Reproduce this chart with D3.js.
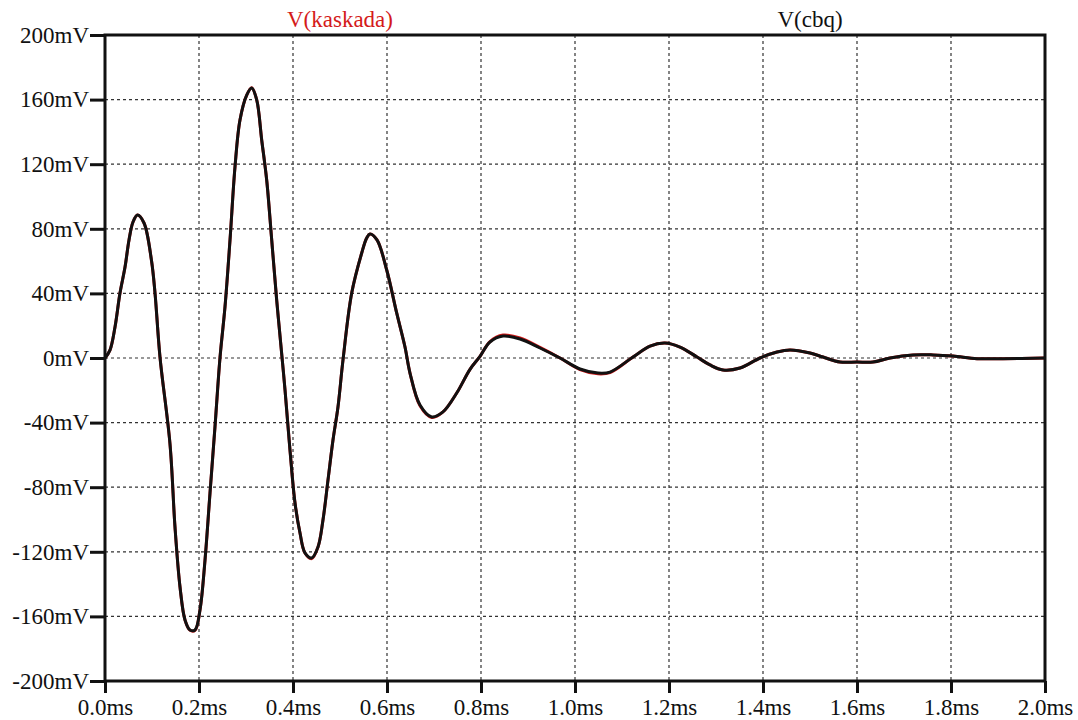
<!DOCTYPE html>
<html>
<head>
<meta charset="utf-8">
<script src="https://cdn.jsdelivr.net/npm/d3@7"></script>
<style>
  html, body { margin: 0; padding: 0; background: #fff; }
  svg { display: block; }
  text { font-family: "Liberation Serif", "DejaVu Serif", "Noto Serif", serif; }
</style>
</head>
<body>
<svg id="chart" width="1078" height="720"></svg>
<script>
// Transient response, time in ms, voltage in mV
const timeMs = [
  0, 0.0106, 0.0213, 0.0319, 0.0426, 0.0511, 0.0596, 0.0691, 0.083, 0.0989,
  0.1064, 0.117, 0.1383, 0.1489, 0.1596, 0.1702, 0.1809, 0.1915, 0.2021, 0.2128,
  0.2234, 0.234, 0.2447, 0.2553, 0.266, 0.2766, 0.2872, 0.3015, 0.3121, 0.3228,
  0.3334, 0.344, 0.3547, 0.3653, 0.3766, 0.383, 0.3936, 0.4043, 0.4149, 0.4255,
  0.4398, 0.4532, 0.4638, 0.4745, 0.4851, 0.4957, 0.5064, 0.5249, 0.5462, 0.5568,
  0.5638, 0.5787, 0.5994, 0.6206, 0.6383, 0.6489, 0.6702, 0.6951, 0.7191, 0.7483,
  0.7766, 0.7979, 0.8191, 0.8468, 0.883, 0.9255, 0.9681, 1.0106, 1.049, 1.0745,
  1.1234, 1.1596, 1.1915, 1.2234, 1.2596, 1.2872, 1.3149, 1.3511, 1.3936, 1.4298,
  1.4574, 1.5, 1.5277, 1.5638, 1.6, 1.634, 1.6702, 1.7191, 1.7617, 1.8043,
  1.8553, 1.9106, 2.0
];

// V(cbq)
const vCbq = [
  0, 4.9, 19.2, 40.2, 56.3, 73.1, 84.2, 88.5, 83.6, 60.4,
  40.2, 0.6, -53.3, -104.6, -141.8, -162.2, -168.4, -168.4, -156.0, -125.1,
  -83.6, -42.7, 0.3, 31.6, 73.1, 118.3, 147.4, 162.8, 167.2, 159.8,
  135.0, 110.2, 73.1, 35.9, 0.6, -19.8, -57.0, -89.8, -108.4, -120.7,
  -123.8, -117.0, -100.3, -75.5, -50.8, -30.3, -1.2, 40.2, 65.0, 74.3,
  76.8, 73.1, 54.5, 27.9, 6.8, -9.3, -29.1, -36.5, -33.4, -21.7,
  -7.0, 1.0, 9.9, 13.6, 11.8, 6.2, 0, -6.8, -9.3, -8.7,
  0.6, 7.4, 9.3, 6.8, 0.6, -4.3, -7.4, -6.2, 0, 3.7,
  5.0, 3.1, 0.6, -2.5, -2.5, -2.5, 0, 1.9, 1.9, 1.2,
  -0.4, -0.4, 0
];

// V(kaskada)
const vKaskada = [
  0, 4.9, 19.2, 40.2, 56.3, 73.1, 84.2, 88.5, 83.6, 60.4,
  40.2, 0.6, -53.3, -104.6, -141.8, -162.2, -168.6, -168.6, -156.0, -125.1,
  -83.6, -42.7, 0.3, 31.6, 73.1, 118.3, 147.4, 162.8, 167.4, 159.8,
  135.0, 110.2, 73.1, 35.9, 0.6, -19.8, -57.0, -89.8, -108.4, -120.7,
  -124.2, -117.0, -100.3, -75.5, -50.8, -30.3, -1.2, 40.2, 65.0, 74.3,
  76.8, 73.1, 54.5, 27.9, 6.8, -9.3, -29.6, -36.8, -33.4, -21.7,
  -7.0, 1.0, 10.2, 14.2, 12.4, 6.6, 0, -7.2, -9.8, -9.0,
  0.6, 7.4, 9.3, 6.8, 0.6, -4.3, -7.4, -6.2, 0, 3.7,
  5.0, 3.1, 0.6, -2.5, -2.5, -2.5, 0, 1.9, 1.9, 1.2,
  -0.4, -0.4, 0
];

const xTicks = [0, 0.2, 0.4, 0.6, 0.8, 1.0, 1.2, 1.4, 1.6, 1.8, 2.0];
const yTicks = [-200, -160, -120, -80, -40, 0, 40, 80, 120, 160, 200];
const traceNames = ["V(kaskada)", "V(cbq)"];
const traceColors = ["#d41a1a", "#111111"];

const serif = "'Liberation Serif', 'DejaVu Serif', 'Noto Serif', serif";

const svg = d3.select("#chart");
const plotLeft = 105, plotRight = 1045, plotTop = 35, plotBottom = 681;

const x = d3.scaleLinear().domain([0, 2]).range([plotLeft, plotRight]);
const y = d3.scaleLinear().domain([-200, 200]).range([plotBottom, plotTop]);

const ink = "#111";

// dotted grid
const grid = svg.append("g")
  .attr("stroke", "#333")
  .attr("stroke-width", 1.2)
  .attr("stroke-dasharray", "3,3");
grid.selectAll("line.v")
  .data(xTicks.slice(1, -1))
  .join("line")
  .attr("class", "v")
  .attr("x1", d => x(d)).attr("x2", d => x(d))
  .attr("y1", plotTop).attr("y2", plotBottom);
grid.selectAll("line.h")
  .data(yTicks.slice(1, -1))
  .join("line")
  .attr("class", "h")
  .attr("x1", plotLeft).attr("x2", plotRight)
  .attr("y1", d => y(d)).attr("y2", d => y(d));

// traces
const line = d3.line()
  .x((d, i) => x(timeMs[i]))
  .y(d => y(d))
  .curve(d3.curveCatmullRom.alpha(0.5));

svg.append("path")
  .datum(vKaskada)
  .attr("fill", "none")
  .attr("stroke", traceColors[0])
  .attr("stroke-width", 3)
  .attr("stroke-linejoin", "round")
  .attr("d", line);

svg.append("path")
  .datum(vCbq)
  .attr("fill", "none")
  .attr("stroke", traceColors[1])
  .attr("stroke-width", 3)
  .attr("stroke-linejoin", "round")
  .attr("d", line);

// frame
svg.append("rect")
  .attr("x", plotLeft).attr("y", plotTop)
  .attr("width", plotRight - plotLeft).attr("height", plotBottom - plotTop)
  .attr("fill", "none")
  .attr("stroke", ink)
  .attr("stroke-width", 3);

// axes
const fmtY = d => d + "mV";
const fmtX = d => d.toFixed(1) + "ms";

const yAxis = svg.append("g")
  .attr("transform", `translate(${plotLeft},0)`)
  .call(d3.axisLeft(y).tickValues(yTicks).tickFormat(fmtY).tickSize(15).tickPadding(1));
const xAxis = svg.append("g")
  .attr("transform", `translate(0,${plotBottom})`)
  .call(d3.axisBottom(x).tickValues(xTicks).tickFormat(fmtX).tickSize(12).tickPadding(6));

[yAxis, xAxis].forEach(g => {
  g.attr("font-family", serif).attr("font-size", 23);
  g.select(".domain").remove();
  g.selectAll(".tick line").attr("stroke", ink).attr("stroke-width", 3);
  g.selectAll(".tick text").attr("fill", ink);
});
yAxis.selectAll(".tick text").attr("dy", "0.32em");
xAxis.selectAll(".tick text").attr("dy", "0.68em");

// trace names
traceNames.forEach((name, i) => {
  svg.append("text")
    .attr("x", i === 0 ? 340 : 810).attr("y", 27)
    .attr("text-anchor", "middle")
    .attr("fill", traceColors[i])
    .attr("font-family", serif)
    .attr("font-size", 23)
    .text(name);
});
</script>
</body>
</html>
